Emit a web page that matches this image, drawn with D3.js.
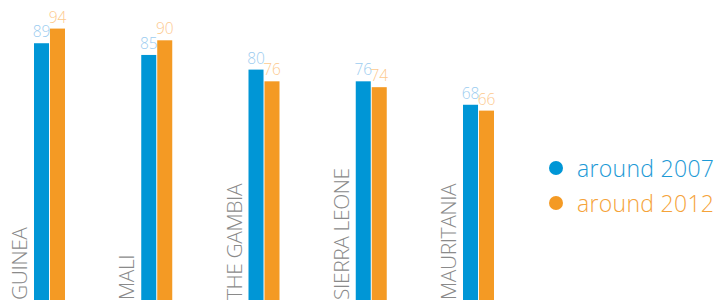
<!DOCTYPE html>
<html>
<head>
<meta charset="utf-8">
<script src="https://cdn.jsdelivr.net/npm/d3@7"></script>
<style>
  body { margin: 0; background: #fff; }
  svg { display: block; font-family: "Open Sans", sans-serif; font-weight: 300; }
</style>
</head>
<body>
<svg width="720" height="300"></svg>
<script>
// data
var countries = ["GUINEA", "MALI", "THE GAMBIA", "SIERRA LEONE", "MAURITANIA"];
var seriesNames = ["around 2007", "around 2012"];
var values2007 = [89, 85, 80, 76, 68];
var values2012 = [94, 90, 76, 74, 66];

var barColors = ["#0096d6", "#f49a24"];
var labelColors = ["#9dcdf0", "#fdca8f"];
var legendColors = ["#1d9ad6", "#f5a33a"];

var svg = d3.select("svg");

var rows = countries.map(function(c, i) {
  return { country: c, vals: [values2007[i], values2012[i]] };
});

// SCALES
var x = d3.scaleBand()
  .domain(countries)
  .range([34, 34 + 5 * 107.25]);

var xs = d3.scaleBand()
  .domain(seriesNames)
  .range([0, 31])
  .paddingInner(0.06);

var y = d3.scaleLinear()
  .domain([0, 100])
  .range([304, 11]);

// BARS
var groups = svg.append("g").selectAll(".group")
  .data(rows)
  .enter().append("g")
  .attr("class", "group")
  .attr("transform", function(d) { return "translate(" + x(d.country) + ",0)"; });

groups.selectAll("rect")
  .data(function(d) { return d.vals; })
  .enter().append("rect")
  .attr("x", function(d, i) { return xs(seriesNames[i]); })
  .attr("y", function(d) { return y(d); })
  .attr("width", xs.bandwidth())
  .attr("height", function(d) { return y(0) - y(d); })
  .attr("fill", function(d, i) { return barColors[i]; });

groups.selectAll(".val")
  .data(function(d) { return d.vals; })
  .enter().append("text")
  .attr("class", "val")
  .attr("x", function(d, i) { return xs(seriesNames[i]) + xs.bandwidth() / 2; })
  .attr("y", function(d) { return y(d) - 6; })
  .attr("text-anchor", "middle")
  .attr("font-size", 15.5)
  .attr("fill", function(d, i) { return labelColors[i]; })
  .text(function(d) { return d; });

// country labels, rotated
groups.append("text")
  .attr("transform", "translate(-7,300) rotate(-90)")
  .attr("font-size", 21)
  .attr("letter-spacing", -0.4)
  .attr("fill", "#8a8a8a")
  .text(function(d) { return d.country; });

// LEGEND
var legend = svg.append("g").selectAll(".legend")
  .data(seriesNames)
  .enter().append("g")
  .attr("class", "legend")
  .attr("transform", function(d, i) { return "translate(556," + (168 + i * 35) + ")"; });

legend.append("circle")
  .attr("r", 7)
  .attr("fill", function(d, i) { return barColors[i]; });

legend.append("text")
  .attr("x", 21)
  .attr("y", 9)
  .attr("font-size", 23)
  .attr("letter-spacing", 0.3)
  .attr("fill", function(d, i) { return legendColors[i]; })
  .text(function(d) { return d; });
</script>
</body>
</html>
